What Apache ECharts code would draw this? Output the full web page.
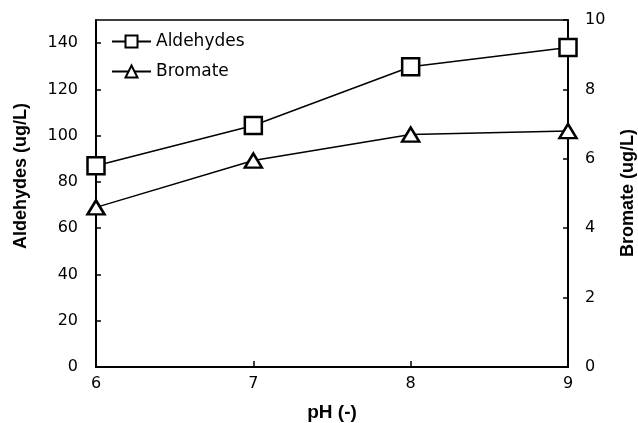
<!DOCTYPE html>
<html>
<head>
<meta charset="utf-8">
<script src="https://cdn.jsdelivr.net/npm/echarts@6/dist/echarts.min.js"></script>
<style>
html, body { margin: 0; padding: 0; background: #fff; }
#main { width: 638px; height: 423px; }
</style>
</head>
<body>
<div id="main"></div>
<script>
// pH 值
var phValues = [6, 7, 8, 9];
// 醛类 (左轴)
var aldehydes = [87, 104.4, 129.8, 138.1];
// 溴酸盐 (右轴)
var bromate = [4.6, 5.95, 6.7, 6.8];

var myChart = echarts.init(document.getElementById('main'));

var tickFont = 'DejaVu Sans, sans-serif';
var titleFont = 'Liberation Sans, Arial, sans-serif';

function pairs(xs, ys) {
    return xs.map(function (x, i) { return [x, ys[i]]; });
}

var option = {
    animation: false,
    textStyle: { fontFamily: tickFont, color: '#000' },
    grid: {
        left: 96, right: 70, top: 20, bottom: 56,
        outerBoundsMode: 'none',
        containLabel: false,
        show: true, borderColor: '#000', borderWidth: 1.5
    },
    legend: {
        orient: 'vertical',
        left: 111,
        top: 33,
        padding: 0,
        itemWidth: 39,
        itemHeight: 15,
        itemGap: 13,
        textStyle: { fontSize: 17, fontFamily: tickFont, color: '#000' },
        data: ['Aldehydes', 'Bromate']
    },
    // 坐标轴标题 (左右两个竖排)
    graphic: [{
        type: 'text',
        x: 12, y: 176,
        rotation: Math.PI / 2,
        style: {
            text: 'Aldehydes (ug/L)',
            font: 'bold 18px ' + titleFont,
            fill: '#000',
            align: 'center',
            verticalAlign: 'top'
        }
    }, {
        type: 'text',
        x: 619, y: 193,
        rotation: Math.PI / 2,
        style: {
            text: 'Bromate (ug/L)',
            font: 'bold 18px ' + titleFont,
            fill: '#000',
            align: 'center',
            verticalAlign: 'top'
        }
    }],
    xAxis: {
        type: 'value',
        min: 6, max: 9, interval: 1,
        name: 'pH (-)',
        nameLocation: 'middle',
        nameGap: 36,
        nameTextStyle: { fontSize: 19, fontWeight: 'bold', fontFamily: titleFont, color: '#000' },
        axisLine: { lineStyle: { color: '#000', width: 2 } },
        axisTick: { inside: true, length: 6, lineStyle: { color: '#000', width: 1.5 } },
        axisLabel: { fontSize: 16, color: '#000', margin: 9 },
        splitLine: { show: false }
    },
    yAxis: [{
        type: 'value',
        min: 0, max: 150, interval: 20,
        axisLine: { show: true, lineStyle: { color: '#000', width: 2 } },
        axisTick: { show: true, inside: true, length: 5, lineStyle: { color: '#000', width: 1.5 } },
        axisLabel: { fontSize: 16, color: '#000', margin: 18, showMaxLabel: false },
        splitLine: { show: false }
    }, {
        type: 'value',
        position: 'right',
        min: 0, max: 10, interval: 2,
        axisLine: { show: true, lineStyle: { color: '#000', width: 2 } },
        axisTick: { show: true, inside: true, length: 5, lineStyle: { color: '#000', width: 1.5 } },
        axisLabel: { fontSize: 16, color: '#000', margin: 17 },
        splitLine: { show: false }
    }],
    series: [{
        name: 'Aldehydes',
        type: 'line',
        yAxisIndex: 0,
        data: pairs(phValues, aldehydes),
        symbol: 'rect',
        symbolSize: 17,
        lineStyle: { color: '#000', width: 1.5 },
        itemStyle: { color: '#fff', borderColor: '#000', borderWidth: 2.5 }
    }, {
        name: 'Bromate',
        type: 'line',
        yAxisIndex: 1,
        data: pairs(phValues, bromate),
        symbol: 'triangle',
        symbolSize: [17, 14],
        lineStyle: { color: '#000', width: 1.5 },
        itemStyle: { color: '#fff', borderColor: '#000', borderWidth: 2.5 }
    }]
};

myChart.setOption(option);
</script>
</body>
</html>
